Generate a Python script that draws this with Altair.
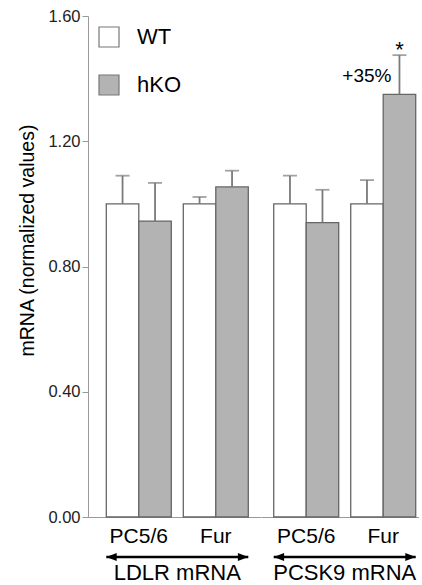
import altair as alt
import pandas as pd

genes = ["LDLR mRNA", "PCSK9 mRNA"]
enzymes = ["PC5/6", "Fur"]
genotypes = ["WT", "hKO"]

# order: LDLR PC5/6, LDLR Fur, PCSK9 PC5/6, PCSK9 Fur
wt_mean = [1.00, 1.00, 1.00, 1.00]
wt_sem = [0.09, 0.022, 0.09, 0.076]
hko_mean = [0.945, 1.054, 0.94, 1.35]
hko_sem = [0.122, 0.052, 0.105, 0.125]
hko_note = ["", "", "", "+35%"]
hko_star = ["", "", "", "*"]

rows = []
i = 0
for g in genes:
    for e in enzymes:
        rows.append(dict(gene=g, enzyme=e, genotype="WT", mean=wt_mean[i],
                         upper=wt_mean[i] + wt_sem[i], note="", star=""))
        rows.append(dict(gene=g, enzyme=e, genotype="hKO", mean=hko_mean[i],
                         upper=hko_mean[i] + hko_sem[i], note=hko_note[i], star=hko_star[i]))
        i += 1
df = pd.DataFrame(rows)

H = 501
FONT = "Liberation Sans"

yscale = alt.Scale(domain=[0, 1.6], nice=False, zero=True)


def panel(gene, width, align, show_y, show_legend):
    data = df[df["gene"] == gene]
    xaxis = alt.Axis(title=None, labelAngle=0, ticks=False, domainColor="#999999",
                     domainWidth=1.2, labelFontSize=21, labelPadding=8,
                     labelColor="black", labelFont=FONT)
    step = 77.0
    po = (width / step - 2 + 0.156) / 2
    xscale = alt.Scale(paddingInner=0.156, paddingOuter=po, align=align)
    X = alt.X("enzyme:N", sort=enzymes, scale=xscale, axis=xaxis)
    XO = alt.XOffset("genotype:N", sort=genotypes,
                     scale=alt.Scale(paddingInner=0, paddingOuter=0))
    if show_y:
        yaxis = alt.Axis(values=[0, 0.4, 0.8, 1.2, 1.6], format=".2f",
                         title="mRNA (normalized values)", titleFontSize=19.5,
                         titleFontWeight="normal", titleColor="black", titleFont=FONT,
                         titleY=224,
                         labelFontSize=16.5, labelColor="#222222", labelFont=FONT,
                         tickSize=6, tickColor="#999999", domainColor="#999999",
                         grid=False, titlePadding=10, labelPadding=2)
    else:
        yaxis = None

    if show_legend:
        legend = alt.Legend(title=None, orient="none", legendX=10, legendY=10,
                            symbolType="square", symbolSize=400,
                            symbolStrokeColor="#777777", symbolStrokeWidth=1.2,
                            labelFontSize=22, labelFont=FONT, labelColor="black",
                            labelOffset=17, rowPadding=22)
    else:
        legend = None

    base = alt.Chart(data)

    bars = base.mark_bar(stroke="#666666", strokeWidth=1.3).encode(
        x=X, xOffset=XO,
        y=alt.Y("mean:Q", scale=yscale, axis=yaxis),
        fill=alt.Fill("genotype:N", sort=genotypes,
                      scale=alt.Scale(domain=genotypes, range=["#ffffff", "#b3b3b3"]),
                      legend=legend),
    )
    err = base.mark_rule(color="#7a7a7a", strokeWidth=1.8).encode(
        x=X, xOffset=XO,
        y=alt.Y("mean:Q", scale=yscale, axis=yaxis),
        y2="upper:Q",
    )
    cap = base.mark_tick(color="#7a7a7a", orient="horizontal", size=14,
                         thickness=1.8).encode(
        x=X, xOffset=XO,
        y=alt.Y("upper:Q", scale=yscale, axis=yaxis),
    )
    note = base.mark_text(align="right", baseline="middle", dx=-8, dy=21, fontSize=19,
                          font=FONT, color="black").encode(
        x=X, xOffset=XO,
        y=alt.Y("upper:Q", scale=yscale, axis=yaxis),
        text="note:N",
    ).transform_filter("datum.note != ''")
    star = base.mark_text(align="center", baseline="bottom", dy=7, fontSize=22,
                          font=FONT, color="black").encode(
        x=X, xOffset=XO,
        y=alt.Y("upper:Q", scale=yscale, axis=yaxis),
        text="star:N",
    ).transform_filter("datum.star != ''")

    first = "datum.enzyme == 'PC5/6' && datum.genotype == 'WT'"
    last = "datum.enzyme == 'Fur' && datum.genotype == 'WT'"
    arrow_line = base.mark_rule(color="black", strokeWidth=2.5).encode(
        x=alt.XDatum("PC5/6", type="nominal", bandPosition=0, scale=xscale, axis=xaxis),
        x2=alt.X2Datum("Fur", bandPosition=1),
        y=alt.value(H + 40),
    ).transform_filter(first)
    left_head = base.mark_point(shape="M0,0 L1.3,-0.5 L1.3,0.5 Z", filled=True,
                                size=256, color="black", opacity=1,
                                strokeWidth=0).encode(
        x=alt.X("enzyme:N", sort=enzymes, bandPosition=0, scale=xscale, axis=xaxis),
        y=alt.value(H + 40),
    ).transform_filter(first)
    right_head = base.mark_point(shape="M0,0 L-1.3,-0.5 L-1.3,0.5 Z", filled=True,
                                 size=256, color="black", opacity=1,
                                 strokeWidth=0).encode(
        x=alt.X("enzyme:N", sort=enzymes, bandPosition=1, scale=xscale, axis=xaxis),
        y=alt.value(H + 40),
    ).transform_filter(last)
    gene_label = base.mark_text(align="center", baseline="alphabetic", dx=-6,
                                fontSize=22, font=FONT, color="black").encode(
        x=alt.X("enzyme:N", sort=enzymes, bandPosition=0, scale=xscale, axis=xaxis),
        y=alt.value(H + 63),
        text="gene:N",
    ).transform_filter(last)

    return alt.layer(bars, err, cap, note, star, arrow_line, left_head, right_head,
                     gene_label).properties(width=width, height=H)


p1 = panel("LDLR mRNA", 172.5, 0.6, True, True)
p2 = panel("PCSK9 mRNA", 157.5, 0.82, False, False)

chart = alt.hconcat(p1, p2, spacing=0).resolve_scale(
    x="independent", y="independent", xOffset="independent"
).properties(
    padding={"left": 17, "top": 8, "right": 0, "bottom": 0},
).configure(font=FONT).configure_view(stroke=None)

chart.save("out.html", embed_options={"renderer": "svg", "actions": False})
